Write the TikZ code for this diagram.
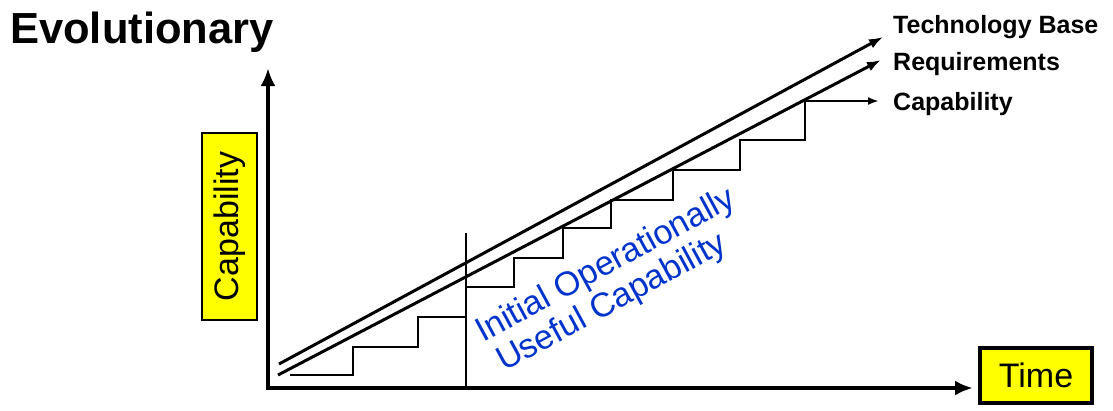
\documentclass[tikz,border=0pt]{standalone}
\usepackage{fontspec}
\setmainfont{Liberation Sans}
\usetikzlibrary{arrows.meta}
\definecolor{boxyellow}{RGB}{255,255,0}
\definecolor{noteblue}{RGB}{0,51,204}
\begin{document}
\begin{tikzpicture}[x=1pt,y=-1pt,
  axisline/.style={line width=4pt,-{Latex[length=18pt,width=15pt]}},
  trendline/.style={line width=3pt,-{Latex[length=14pt,width=10pt]}},
  stairline/.style={line width=2pt},
  linelabel/.style={anchor=base west,inner sep=0pt,font=\fontsize{25}{28}\selectfont\bfseries},
  axislabel/.style={fill=boxyellow,draw=black,inner sep=0pt,font=\fontsize{34}{40}\selectfont},
  notetext/.style={anchor=base west,inner sep=0pt,rotate=28.5,text=noteblue,font=\fontsize{34}{36}\selectfont}]
  \useasboundingbox (0,0) rectangle (1113,410);

  % title
  \node[anchor=base west,inner sep=0pt,font=\fontsize{43.5}{48}\selectfont\bfseries] (title) at (10,43) {Evolutionary};

  % axes
  \coordinate (origin) at (268,388);
  \coordinate (ytip) at (268,68);
  \coordinate (xtip) at (973,388);
  \draw[axisline] (origin) -- (ytip);
  \draw[axisline] ([xshift=-2pt]origin) -- (xtip);

  % axis labels
  \node[axislabel,line width=1.5pt,rotate=90,minimum width=187pt,minimum height=55pt] (ylab) at (229.5,226.5) {Capability};
  \node[axislabel,line width=3.5pt,minimum width=112pt,minimum height=55pt] (xlab) at (1036,375.5) {Time};

  % trend lines
  \coordinate (tbstart) at (279,364);
  \coordinate (tbend) at (883,37);
  \coordinate (rqstart) at (278,375);
  \coordinate (rqend) at (881,60);
  \draw[trendline] (tbstart) -- (tbend);
  \draw[trendline] (rqstart) -- (rqend);

  % delivered capability increments
  \coordinate (capstart) at (290,375);
  \coordinate (capend) at (879,101);
  \draw[stairline,-{Latex[length=11pt,width=8pt]}] (capstart) -- (353,375) -- (353,347) -- (418,347) -- (418,317)
    -- (466,317) -- (466,287) -- (514,287) -- (514,258) -- (563,258) -- (563,228)
    -- (611,228) -- (611,200) -- (673,200) -- (673,170) -- (740,170) -- (740,140)
    -- (805,140) -- (805,101) -- (capend);

  % IOC marker
  \coordinate (ioctop) at (466,233);
  \coordinate (iocbot) at (466,388);
  \draw[line width=1.3pt] (ioctop) -- (iocbot);

  % line labels
  \node[linelabel] (tblab) at (893,33) {Technology Base};
  \node[linelabel] (rqlab) at (893,70) {Requirements};
  \node[linelabel] (caplab) at (893,110) {Capability};

  % IOC note
  \node[notetext] (note1) at (483,343) {Initial Operationally};
  \node[notetext] (note2) at (504,372) {Useful Capability};
\end{tikzpicture}
\end{document}
